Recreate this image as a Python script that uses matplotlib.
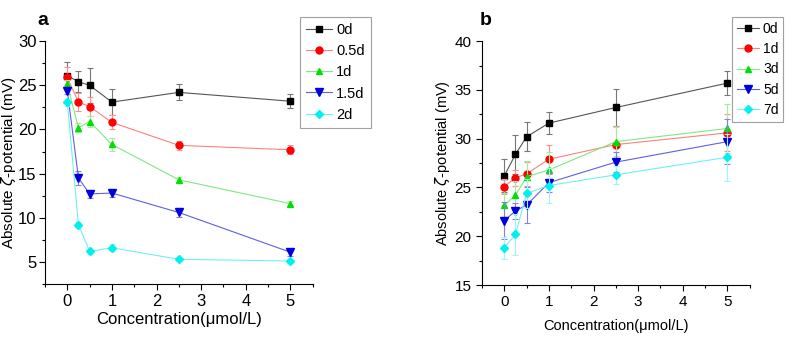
import numpy as np
import matplotlib.pyplot as plt
from matplotlib.ticker import MultipleLocator

plt.rcParams['font.family'] = ['Liberation Sans', 'DejaVu Sans']
plt.rcParams['mathtext.fontset'] = 'dejavusans'

conc = [0, 0.25, 0.5, 1, 2.5, 5]

# panel a: storage 0 - 2 d
labels_a = ['0d', '0.5d', '1d', '1.5d', '2d']
a_0d = [26.1, 25.4, 25.0, 23.1, 24.2, 23.2]
a_0d_err = [1.5, 1.2, 2.0, 1.5, 0.9, 0.8]
a_05d = [25.9, 23.1, 22.6, 20.8, 18.2, 17.7]
a_05d_err = [1.2, 1.0, 1.1, 0.8, 0.5, 0.5]
a_1d = [25.1, 20.2, 20.9, 18.3, 14.3, 11.6]
a_1d_err = [0.5, 0.5, 0.6, 0.7, 0.3, 0.3]
a_15d = [24.4, 14.5, 12.7, 12.8, 10.6, 6.1]
a_15d_err = [0.4, 0.8, 0.5, 0.4, 0.5, 0.4]
a_2d = [23.1, 9.2, 6.2, 6.6, 5.3, 5.1]
a_2d_err = [0.4, 0.3, 0.3, 0.4, 0.2, 0.2]

# panel b: storage 0 - 7 d
labels_b = ['0d', '1d', '3d', '5d', '7d']
b_0d = [26.2, 28.4, 30.2, 31.6, 33.2, 35.7]
b_0d_err = [1.7, 2.0, 1.5, 1.1, 1.9, 1.25]
b_1d = [25.1, 26.0, 26.4, 27.9, 29.4, 30.6]
b_1d_err = [0.8, 0.8, 1.2, 1.5, 1.9, 1.9]
b_3d = [23.2, 24.2, 26.1, 26.8, 29.7, 31.05]
b_3d_err = [1.2, 1.5, 1.6, 1.8, 1.5, 2.5]
b_5d = [21.6, 22.6, 23.2, 25.5, 27.6, 29.7]
b_5d_err = [1.9, 0.8, 1.8, 1.0, 1.0, 2.3]
b_7d = [18.8, 20.2, 24.4, 25.2, 26.3, 28.1]
b_7d_err = [1.1, 2.1, 1.5, 1.8, 0.9, 2.4]

markers = ['s', 'o', '^', 'v', 'D']
mcolors = ['#000000', '#ff0000', '#00e000', '#0000dd', '#00f0f0']
lcolors = ['#555555', '#ff8080', '#80e880', '#6060e0', '#70f0f0']
ecolors = ['#777777', '#ff9090', '#a0eea0', '#8080e8', '#a0f4f4']
msizes = [4.5, 5, 5, 5.5, 4.5]

fig = plt.figure(figsize=(7.92, 3.43), dpi=100)
ax1 = fig.add_axes([0.0568, 0.172, 0.338, 0.708])
ax2 = fig.add_axes([0.6086, 0.169, 0.338, 0.711])

def draw(ax, series, errs, labels):
    for i, (y, e, lab) in enumerate(zip(series, errs, labels)):
        ax.errorbar(conc, y, yerr=e, fmt='none', ecolor=ecolors[i],
                    elinewidth=0.8, capsize=2.5, capthick=0.8)
        ax.plot(conc, y, marker=markers[i], ms=msizes[i], color=lcolors[i],
                mfc=mcolors[i], mec=mcolors[i], lw=0.8, label=lab)
    for s in ['top', 'right']:
        ax.spines[s].set_visible(False)
    ax.set_xlim(-0.5, 5.5)
    ax.xaxis.set_major_locator(MultipleLocator(1))
    ax.xaxis.set_minor_locator(MultipleLocator(0.5))
    ax.tick_params(which='major', direction='out', length=4, width=0.8)
    ax.tick_params(which='minor', direction='out', length=2, width=0.8)

def style_legend(leg):
    leg.get_frame().set_edgecolor('#888888')
    leg.get_frame().set_linewidth(0.8)

draw(ax1, [a_0d, a_05d, a_1d, a_15d, a_2d],
     [a_0d_err, a_05d_err, a_1d_err, a_15d_err, a_2d_err], labels_a)
ax1.set_ylim(2.5, 30)
ax1.set_yticks([5, 10, 15, 20, 25, 30])
ax1.yaxis.set_minor_locator(MultipleLocator(2.5))
ax1.tick_params(labelsize=12)
ax1.tick_params(axis='y', pad=2)
ax1.set_xlabel('Concentration(μmol/L)', fontsize=12, labelpad=2)
ax1.set_ylabel('Absolute $\\zeta$-potential (mV)', fontsize=11)
ax1.yaxis.set_label_coords(-0.1, 0.5)
ax1.text(-0.03, 1.05, 'a', transform=ax1.transAxes, fontsize=14,
         fontweight='bold', va='bottom')
leg1 = ax1.legend(loc='upper left', bbox_to_anchor=(0.925, 1.13), fontsize=10.5,
                  frameon=True, fancybox=False, handlelength=1.8,
                  borderpad=0.4, labelspacing=0.5, handletextpad=0.3)
style_legend(leg1)

draw(ax2, [b_0d, b_1d, b_3d, b_5d, b_7d],
     [b_0d_err, b_1d_err, b_3d_err, b_5d_err, b_7d_err], labels_b)
ax2.set_ylim(15, 40)
ax2.set_yticks([15, 20, 25, 30, 35, 40])
ax2.yaxis.set_minor_locator(MultipleLocator(2.5))
ax2.tick_params(labelsize=11)
ax2.set_xlabel('Concentration(μmol/L)', fontsize=10.5, labelpad=7)
ax2.set_ylabel('Absolute $\\zeta$-potential (mV)', fontsize=10.5)
ax2.yaxis.set_label_coords(-0.112, 0.5)
ax2.text(-0.01, 1.05, 'b', transform=ax2.transAxes, fontsize=14,
         fontweight='bold', va='bottom')
leg2 = ax2.legend(loc='upper left', bbox_to_anchor=(0.925, 1.11), fontsize=10,
                  frameon=True, fancybox=False, handlelength=1.6,
                  borderpad=0.35, labelspacing=0.45, handletextpad=0.25,
                  borderaxespad=0.2)
style_legend(leg2)

fig.savefig('out.png', dpi=100)
